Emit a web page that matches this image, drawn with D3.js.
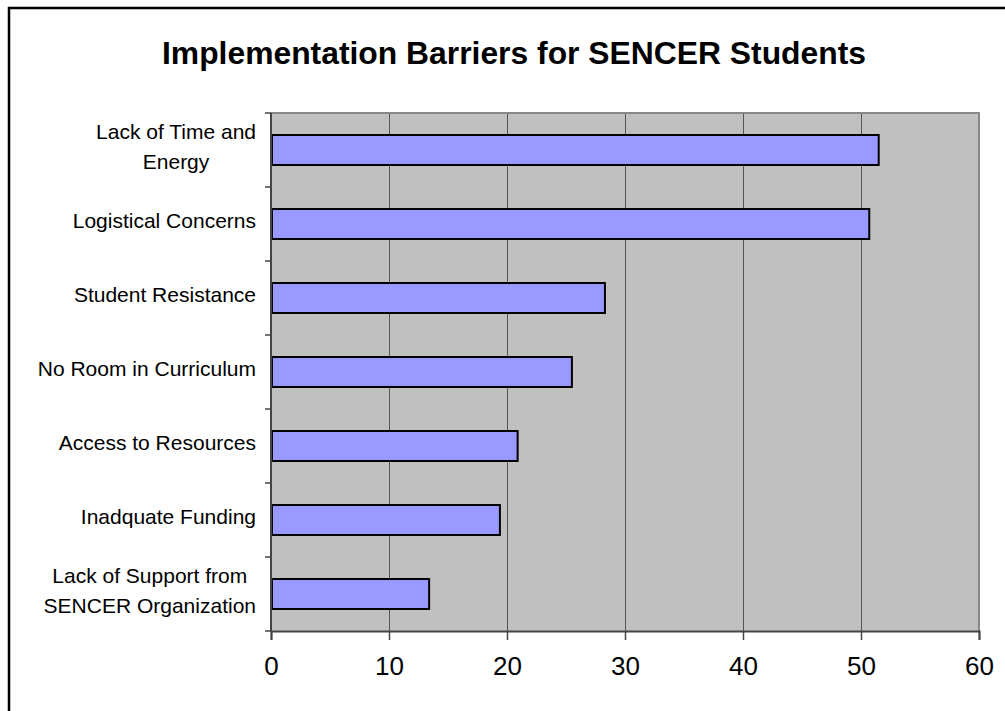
<!DOCTYPE html>
<html>
<head>
<meta charset="utf-8">
<script src="https://d3js.org/d3.v7.min.js"></script>
<style>
  body { margin: 0; background: #fff; }
  svg { display: block; font-family: "Liberation Sans", Arial, sans-serif; }
</style>
</head>
<body>
<main></main>
<script>
// Implementation barriers, horizontal bars, Excel-ish look.

const categories = [
  "Lack of Time and\nEnergy",
  "Logistical Concerns",
  "Student Resistance",
  "No Room in Curriculum",
  "Access to Resources",
  "Inadquate Funding",
  "Lack of Support from\nSENCER Organization"
];
const values = [51.5, 50.7, 28.3, 25.5, 20.9, 19.4, 13.4];
const xTicks = [0, 10, 20, 30, 40, 50, 60];
const title = "Implementation Barriers for SENCER Students";

let width = 1005,
    height = 711;

let plot = { left: 271, top: 113, right: 979, bottom: 631 };

let svg = d3.select("main").append("svg")
  .attr("width", width)
  .attr("height", height);

// Outer chart border (runs off the right and bottom edges).
svg.append("rect")
  .attr("x", 9).attr("y", 8)
  .attr("width", 1020).attr("height", 730)
  .attr("fill", "#fff")
  .attr("stroke", "#000")
  .attr("stroke-width", 2.5);

svg.append("text")
  .attr("x", 514).attr("y", 64)
  .attr("text-anchor", "middle")
  .attr("font-size", 32)
  .attr("font-weight", "bold")
  .attr("textLength", 704)
  .attr("lengthAdjust", "spacingAndGlyphs")
  .text(title);

let x = d3.scaleLinear().domain([0, 60]).range([plot.left, plot.right]);
let y = d3.scaleBand()
  .domain(categories)
  .range([plot.top, plot.bottom])
  .paddingInner(0.595)
  .paddingOuter(0.2975);

// Plot background.
svg.append("rect")
  .attr("x", plot.left).attr("y", plot.top)
  .attr("width", plot.right - plot.left)
  .attr("height", plot.bottom - plot.top)
  .attr("fill", "#c0c0c0");

// Gridlines.
svg.append("g")
  .selectAll("line")
  .data(xTicks.filter(t => t > 0 && t < 60))
  .join("line")
  .attr("x1", d => x(d) + 0.5).attr("x2", d => x(d) + 0.5)
  .attr("y1", plot.top).attr("y2", plot.bottom)
  .attr("stroke", "#555")
  .attr("stroke-width", 1);

// Top and right plot border.
svg.append("path")
  .attr("d", `M ${plot.left} ${plot.top} L ${plot.right} ${plot.top} L ${plot.right} ${plot.bottom}`)
  .attr("fill", "none")
  .attr("stroke", "#888")
  .attr("stroke-width", 2);

// Bars.
svg.append("g")
  .selectAll("rect")
  .data(values)
  .join("rect")
  .attr("x", x(0) + 1)
  .attr("y", (d, i) => y(categories[i]))
  .attr("width", d => x(d) - x(0) - 1)
  .attr("height", y.bandwidth())
  .attr("fill", "#9999ff")
  .attr("stroke", "#000")
  .attr("stroke-width", 2);

// X axis.
let xAxis = svg.append("g")
  .attr("transform", `translate(0, ${plot.bottom})`)
  .call(d3.axisBottom(x).tickValues(xTicks).tickSize(9).tickPadding(17));

xAxis.select(".domain").attr("stroke", "#444").attr("stroke-width", 2);
xAxis.selectAll(".tick line").attr("stroke", "#444").attr("stroke-width", 1.5);
xAxis.selectAll(".tick text")
  .attr("font-family", "Liberation Sans, Arial, sans-serif")
  .attr("font-size", 26)
  .attr("fill", "#000");

// Y axis line and ticks at the band edges.
let yAxis = svg.append("g");
yAxis.append("line")
  .attr("x1", plot.left).attr("x2", plot.left)
  .attr("y1", plot.top).attr("y2", plot.bottom)
  .attr("stroke", "#444").attr("stroke-width", 2);

yAxis.selectAll("line.tick")
  .data(d3.range(categories.length + 1))
  .join("line")
  .attr("class", "tick")
  .attr("x1", plot.left - 6).attr("x2", plot.left)
  .attr("y1", i => plot.top + i * y.step())
  .attr("y2", i => plot.top + i * y.step())
  .attr("stroke", "#444").attr("stroke-width", 1.5);

// Category labels, multi-line ones centred as a block.
let labelRight = 256;
categories.forEach(function(cat) {
  let lines = cat.split("\n");
  let cy = y(cat) + y.bandwidth() / 2;
  let g = svg.append("g");
  let texts = lines.map(function(line, i) {
    return g.append("text")
      .attr("font-size", 21)
      .attr("fill", "#000")
      .attr("y", cy + 4 + (i - (lines.length - 1) / 2) * 30)
      .text(line);
  });
  let w = d3.max(texts, t => t.node().getComputedTextLength());
  texts.forEach(t => t.attr("text-anchor", "middle").attr("x", labelRight - w / 2));
});
</script>
</body>
</html>
